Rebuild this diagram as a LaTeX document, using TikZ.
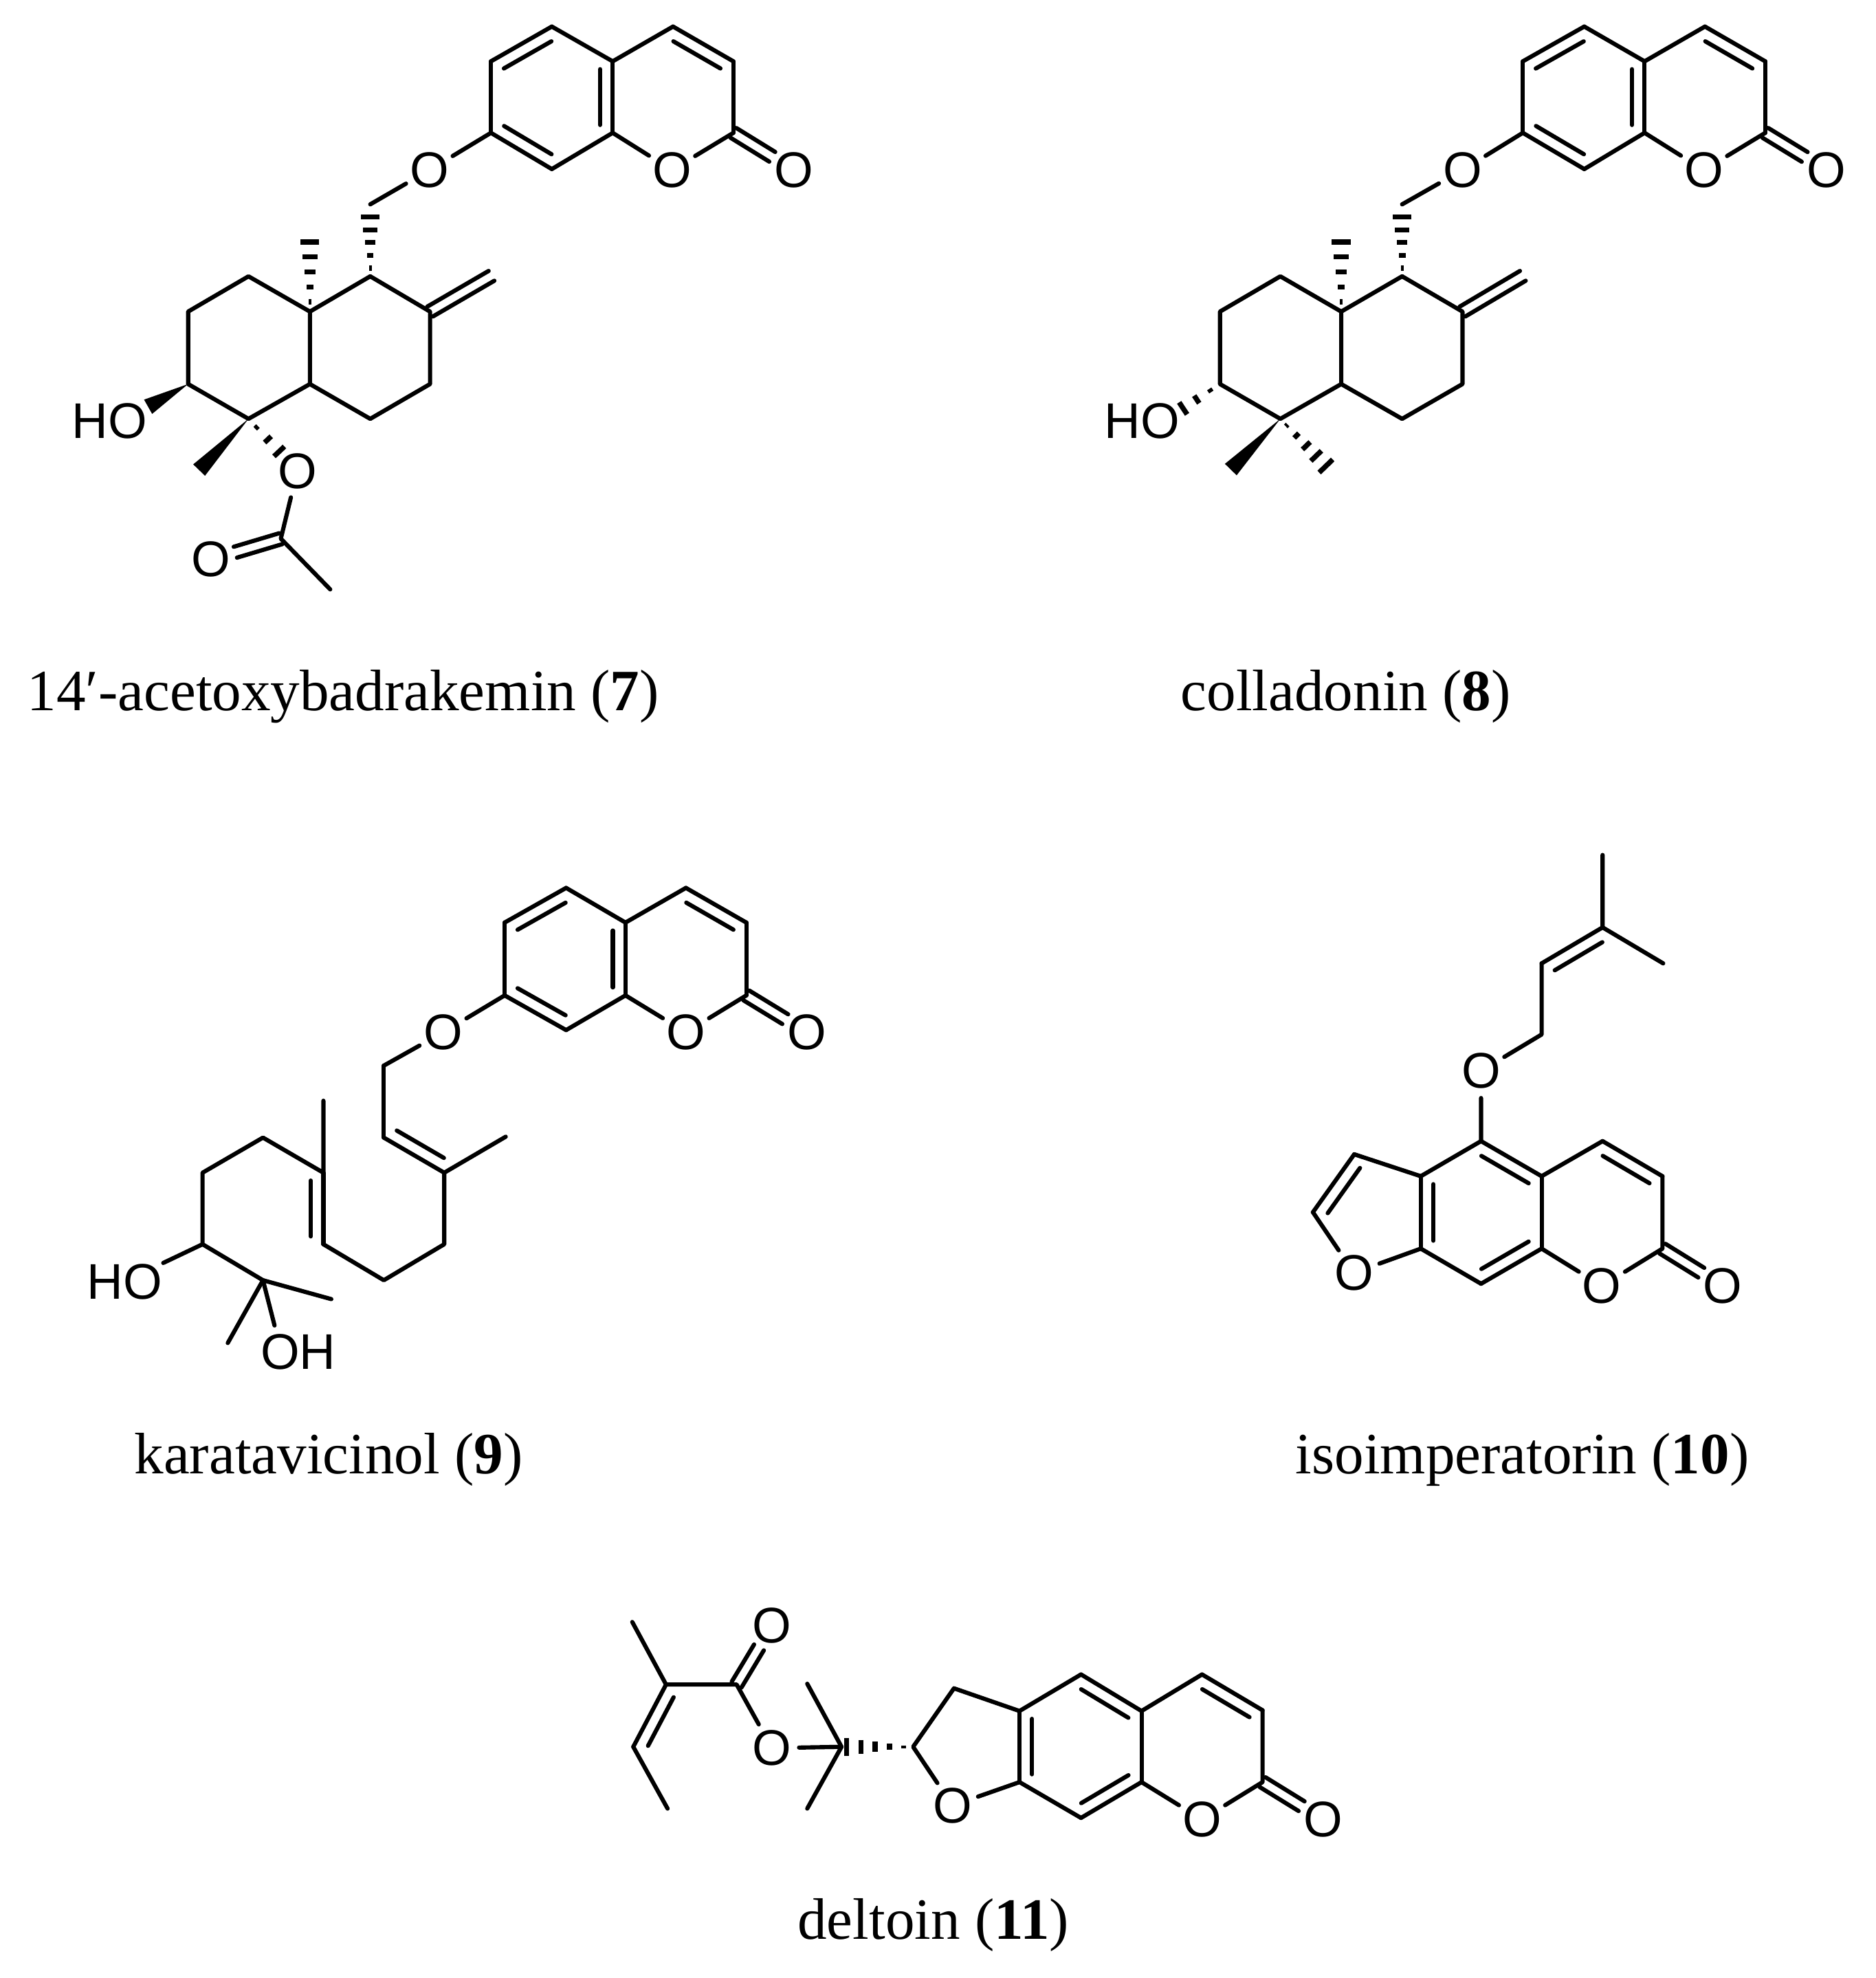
\documentclass[tikz,border=0pt]{standalone}
\usepackage{fontspec}
\setmainfont{Liberation Serif}
\newfontfamily\atomfont{Liberation Sans}
\usetikzlibrary{calc}
\tikzset{
  bond/.style={line width=.95pt,line cap=round,line join=round,black},
  hashb/.style={line width=1.15pt,black},
  atomo/.style={circle,inner sep=0pt,minimum size=.38cm,font=\atomfont\fontsize{11.3}{13}\selectfont},
  atomt/.style={inner sep=0pt,font=\atomfont\fontsize{11.3}{13}\selectfont},
  caption/.style={anchor=base,inner sep=0pt,font=\fontsize{13.2}{16}\selectfont}
}
\newcommand{\atm}[2]{\coordinate (#1) at #2;}
\newcommand{\dbl}[3]{\draw[bond] (#1)--(#2); \draw[bond] ($(#1)!.11!(#2)!#3!90:(#2)$) -- ($(#2)!.11!(#1)!#3!-90:(#1)$);}
\newcommand{\cdo}[4]{\draw[bond,shorten >=#4] ($(#1)!#3!90:(#2)$) -- ($(#2)!#3!-90:(#1)$); \draw[bond,shorten >=#4] ($(#1)!#3!-90:(#2)$) -- ($(#2)!#3!90:(#1)$);}
\newcommand{\hsh}[3]{\foreach \hh in {.13,.33,.53,.73,.93} {\draw[hashb] ($(#1)!\hh!(#2)!{\hh*#3}!90:(#1)$) -- ($(#1)!\hh!(#2)!{\hh*#3}!-90:(#1)$);}}
\newcommand{\hshfew}[3]{\foreach \hh in {.25,.6,.95} {\draw[hashb] ($(#1)!\hh!(#2)!{\hh*#3}!90:(#1)$) -- ($(#1)!\hh!(#2)!{\hh*#3}!-90:(#1)$);}}
\newcommand{\wdg}[3]{\fill ($(#2)!#3!90:(#1)$) -- (#1) -- ($(#2)!#3!-90:(#1)$) -- cycle;}
% coumarin part shared by compounds 7, 8, 9
\newcommand{\coumbonds}[1]{%
  \dbl{#1c1}{#1c2}{-.1cm}
  \draw[bond] (#1c2)--(#1c3);
  \dbl{#1c3}{#1c8}{-.1cm}
  \draw[bond] (#1c3)--(#1c4);
  \dbl{#1c4}{#1c5}{-.1cm}
  \draw[bond] (#1c5)--(#1c6);
  \draw[bond] (#1c6)--(#1Or);
  \draw[bond] (#1Or)--(#1c8);
  \draw[bond] (#1c8)--(#1c9);
  \dbl{#1c9}{#1c10}{-.1cm}
  \draw[bond] (#1c10)--(#1c1);
  \draw[bond] (#1c10)--(#1Oe);
  \draw[bond] (#1Oe)--(#1ch);
  \cdo{#1c6}{#1Ok}{.045cm}{.2cm}
}
\begin{document}
\begin{tikzpicture}
\useasboundingbox (0,0) rectangle (14.87,-15.68);
\fill[white] (0,0) rectangle (14.87,-15.68);

% ---------- compound 7
\begin{scope}[x=.004345cm,y=-.003824cm]
\atm{Ac1}{(895,127)}\atm{Ac2}{(1006,55)}\atm{Ac3}{(1117,127)}\atm{Ac4}{(1227,55)}\atm{Ac5}{(1337,127)}
\atm{Ac6}{(1337,275)}\atm{Ac8}{(1117,275)}\atm{Ac9}{(1006,350)}\atm{Ac10}{(895,275)}\atm{Ach}{(675,423)}
\node[atomo] (AOr) at (1225,352) {O};
\node[atomo] (AOk) at (1447,352) {O};
\node[atomo] (AOe) at (783,352) {O};
\coumbonds{A}
\atm{Aa}{(675,572)}\atm{Ab}{(784,645)}\atm{Ac}{(784,795)}\atm{Ad}{(675,867)}\atm{Ae}{(565,795)}
\atm{Af}{(565,645)}\atm{Ag}{(453,572)}\atm{Ah}{(343,645)}\atm{Ai}{(343,795)}\atm{Aj}{(453,867)}
\atm{Aex}{(896,571)}\atm{Ahe}{(675,440)}\atm{Ame}{(565,490)}\atm{Awo}{(270,842)}\atm{Awm}{(363,973)}
\atm{Ahd}{(512,938)}
\atm{Ak}{(512,1115)}\atm{Aml}{(602,1220)}
\draw[bond] (Aa)--(Ab)--(Ac)--(Ad)--(Ae)--(Af)--(Ag)--(Ah)--(Ai)--(Aj)--(Ae);
\draw[bond] (Af)--(Aa);
\cdo{Ab}{Aex}{.045cm}{0pt}
\hsh{Aa}{Ahe}{.08cm}
\hsh{Af}{Ame}{.08cm}
\wdg{Ai}{Awo}{.065cm}
\wdg{Aj}{Awm}{.065cm}
\node[atomt] (AHO) at (200,872) {HO};
\node[atomo] (AOa) at (542,975) {O};
\node[atomo] (AOc) at (385,1158) {O};
\hshfew{Aj}{Ahd}{.06cm}
\draw[bond] (AOa)--(Ak)--(Aml);
\cdo{Ak}{AOc}{.045cm}{.2cm}
\end{scope}
\node[caption] (capA) at (2.72,-5.63) {14′-acetoxybadrakemin (\textbf{7})};

% ---------- compound 8
\begin{scope}[xshift=8.177cm,x=.004269cm,y=-.003824cm]
\atm{Bc1}{(912,127)}\atm{Bc2}{(1026,55)}\atm{Bc3}{(1138,127)}\atm{Bc4}{(1250,55)}\atm{Bc5}{(1362,127)}
\atm{Bc6}{(1362,275)}\atm{Bc8}{(1138,275)}\atm{Bc9}{(1026,350)}\atm{Bc10}{(912,275)}\atm{Bch}{(688,423)}
\node[atomo] (BOr) at (1248,352) {O};
\node[atomo] (BOk) at (1475,352) {O};
\node[atomo] (BOe) at (800,352) {O};
\coumbonds{B}
\atm{Ba}{(688,572)}\atm{Bb}{(800,645)}\atm{Bc}{(800,795)}\atm{Bd}{(688,867)}\atm{Be}{(575,795)}
\atm{Bf}{(575,645)}\atm{Bg}{(462,572)}\atm{Bh}{(350,645)}\atm{Bi}{(350,795)}\atm{Bj}{(462,867)}
\atm{Bex}{(912,571)}\atm{Bhe}{(688,440)}\atm{Bme}{(575,490)}\atm{Bho}{(278,848)}\atm{Bwm}{(370,972)}\atm{Bhm}{(553,972)}
\draw[bond] (Ba)--(Bb)--(Bc)--(Bd)--(Be)--(Bf)--(Bg)--(Bh)--(Bi)--(Bj)--(Be);
\draw[bond] (Bf)--(Ba);
\cdo{Bb}{Bex}{.045cm}{0pt}
\hsh{Ba}{Bhe}{.08cm}
\hsh{Bf}{Bme}{.08cm}
\hshfew{Bi}{Bho}{.06cm}
\hsh{Bj}{Bhm}{.08cm}
\wdg{Bj}{Bwm}{.065cm}
\node[atomt] (BHO) at (205,872) {HO};
\end{scope}
\node[caption] (capB) at (10.67,-5.63) {colladonin (\textbf{8})};

% ---------- compound 9
\begin{scope}[xshift=.273cm,yshift=-6.541cm,x=.004172cm,y=-.003476cm]
\atm{Cc1}{(895,222)}\atm{Cc2}{(1012,143)}\atm{Cc3}{(1125,222)}\atm{Cc4}{(1240,143)}\atm{Cc5}{(1355,222)}
\atm{Cc6}{(1355,388)}\atm{Cc8}{(1125,388)}\atm{Cc9}{(1012,467)}\atm{Cc10}{(895,388)}\atm{Cch}{(665,548)}
\node[atomo] (COr) at (1240,472) {O};
\node[atomo] (COk) at (1470,472) {O};
\node[atomo] (COe) at (778,472) {O};
\coumbonds{C}
\atm{Cp}{(665,712)}\atm{Cq}{(780,792)}\atm{Cr}{(897,710)}\atm{Cs}{(780,955)}\atm{Ct}{(665,1037)}
\atm{Cu}{(550,955)}\atm{Cv}{(550,792)}\atm{Cw}{(550,628)}\atm{Cx}{(435,712)}\atm{Cy}{(320,792)}
\atm{Cz}{(320,955)}\atm{Caa}{(435,1037)}\atm{Cbb}{(565,1080)}\atm{Ccc}{(368,1180)}\atm{Coh}{(457,1140)}
\node[atomt] (CHO) at (172,1040) {HO};
\node[atomt] (COH) at (502,1200) {OH};
\draw[bond] (Cch)--(Cp);
\dbl{Cp}{Cq}{.1cm}
\draw[bond] (Cr)--(Cq)--(Cs)--(Ct)--(Cu);
\dbl{Cv}{Cu}{-.1cm}
\draw[bond] (Cw)--(Cv)--(Cx)--(Cy)--(Cz)--(Caa)--(Cbb);
\draw[bond] (Caa)--(Ccc);
\draw[bond] (Caa)--(Coh);
\draw[bond] (Cz)--(CHO.north east);
\end{scope}
\node[caption] (capC) at (2.605,-11.68) {karatavicinol (\textbf{9})};

% ---------- compound 10
\begin{scope}[xshift=9.812cm,yshift=-6.541cm,x=.002781cm,y=-.003476cm]
\atm{Dm}{(1042,68)}\atm{DA}{(1042,233)}\atm{Dn}{(1215,315)}\atm{DB}{(868,315)}\atm{DC}{(868,477)}
\atm{DD}{(695,720)}\atm{DE}{(868,800)}\atm{DF}{(1042,720)}\atm{DG}{(1213,800)}\atm{DH}{(1213,965)}
\atm{DI}{(868,965)}\atm{DJ}{(695,1045)}\atm{DK}{(523,965)}\atm{DL}{(523,800)}\atm{DM}{(333,750)}\atm{DN}{(215,882)}
\node[atomo] (DOe) at (695,560) {O};
\node[atomo] (DOr) at (1040,1050) {O};
\node[atomo] (DOf) at (332,1020) {O};
\node[atomo] (DOk) at (1385,1050) {O};
\draw[bond] (Dm)--(DA)--(Dn);
\dbl{DA}{DB}{.1cm}
\draw[bond] (DB)--(DC)--(DOe)--(DD);
\dbl{DD}{DE}{-.1cm}
\draw[bond] (DE)--(DF);
\dbl{DF}{DG}{-.1cm}
\draw[bond] (DG)--(DH)--(DOr)--(DI);
\draw[bond] (DE)--(DI);
\dbl{DJ}{DI}{.1cm}
\draw[bond] (DJ)--(DK);
\dbl{DL}{DK}{.1cm}
\draw[bond] (DL)--(DD);
\draw[bond] (DL)--(DM);
\dbl{DM}{DN}{.1cm}
\draw[bond] (DN)--(DOf)--(DK);
\cdo{DH}{DOk}{.045cm}{.2cm}
\end{scope}
\node[caption] (capD) at (12.07,-11.68) {isoimperatorin (\textbf{10})};

% ---------- compound 11
\begin{scope}[xshift=4.633cm,yshift=-12.538cm,x=.003998cm,y=-.002006cm]
\atm{Ea}{(95,160)}\atm{Eb}{(162,408)}\atm{Ec}{(302,408)}\atm{Ed}{(97,655)}\atm{Ee}{(165,900)}
\atm{Ef}{(510,655)}\atm{Eg}{(442,405)}\atm{Eh}{(442,900)}\atm{Ei}{(652,655)}\atm{Ej}{(733,423)}
\atm{Ek}{(863,513)}\atm{El}{(985,368)}\atm{Em}{(1105,513)}\atm{En}{(1225,368)}\atm{Eo}{(1345,510)}
\atm{Ep}{(1345,795)}\atm{Eq}{(1105,795)}\atm{Er}{(985,937)}\atm{Es}{(863,795)}
\node[atomo] (EOc) at (372,175) {O};
\node[atomo] (EOe) at (372,660) {O};
\node[atomo] (EOr) at (1225,943) {O};
\node[atomo] (EOf) at (730,888) {O};
\node[atomo] (EOk) at (1465,943) {O};
\draw[bond] (Ea)--(Eb)--(Ec)--(EOe)--(Ef);
\dbl{Eb}{Ed}{.1cm}
\draw[bond] (Ed)--(Ee);
\cdo{Ec}{EOc}{.045cm}{.2cm}
\draw[bond] (Eg)--(Ef)--(Eh);
\hsh{Ei}{Ef}{.075cm}
\draw[bond] (EOf)--(Ei)--(Ej)--(Ek)--(El);
\draw[bond] (EOf)--(Es)--(Er);
\dbl{Ek}{Es}{.1cm}
\dbl{El}{Em}{-.1cm}
\draw[bond] (Em)--(En);
\dbl{En}{Eo}{-.1cm}
\draw[bond] (Em)--(Eq);
\dbl{Eq}{Er}{-.1cm}
\draw[bond] (Eo)--(Ep)--(EOr)--(Eq);
\cdo{Ep}{EOk}{.045cm}{.2cm}
\end{scope}
\node[caption] (capE) at (7.4,-15.37) {deltoin (\textbf{11})};
\end{tikzpicture}
\end{document}
